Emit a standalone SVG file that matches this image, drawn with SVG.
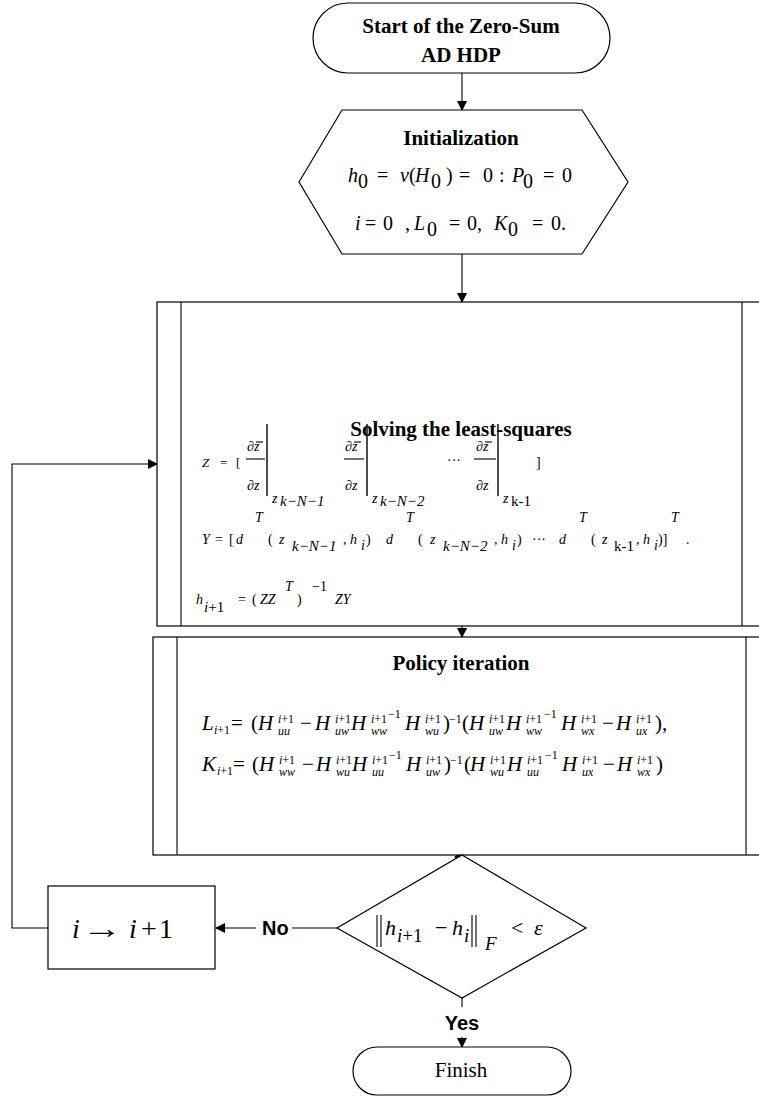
<svg xmlns="http://www.w3.org/2000/svg" width="759" height="1097" viewBox="0 0 759 1097">
<defs>
<marker id="ah" markerWidth="10" markerHeight="10" refX="9" refY="5" orient="auto" markerUnits="userSpaceOnUse">
<path d="M0,0 L10,5 L0,10 z" fill="#000"/>
</marker>
<style>
.box{fill:#fff;stroke:#000;stroke-width:1.2}
.ln{fill:none;stroke:#000;stroke-width:1.1}
.ttl{font-family:"Liberation Serif","Times New Roman",serif;font-weight:bold;font-size:21px;text-anchor:middle;fill:#000}
.m{font-family:"Liberation Serif","Times New Roman",serif;fill:#000}
.i{font-style:italic}
.lbl{font-family:"Liberation Sans",Arial,sans-serif;font-weight:bold;font-size:20px;fill:#000}
</style>
</defs>
<rect width="759" height="1097" fill="#fff"/>

<g id="connectors">
<line class="ln" x1="462" y1="73" x2="462" y2="110" marker-end="url(#ah)"/>
<line class="ln" x1="462" y1="254" x2="462" y2="302" marker-end="url(#ah)"/>
<line class="ln" x1="462" y1="626" x2="462" y2="637" marker-end="url(#ah)"/>
<polygon points="454,857 464,850 463,863" fill="#000"/>
<line class="ln" x1="337" y1="928" x2="292" y2="928"/>
<line class="ln" x1="256" y1="928" x2="216" y2="928" marker-end="url(#ah)"/>
<polyline class="ln" points="48,928 12,928 12,464 157,464" marker-end="url(#ah)"/>
<line class="ln" x1="462" y1="998" x2="462" y2="1007"/>
<line class="ln" x1="462" y1="1037" x2="462" y2="1047" marker-end="url(#ah)"/>
<text class="lbl" x="262" y="935">No</text>
<text class="lbl" x="462" y="1030" text-anchor="middle">Yes</text>
</g>

<g id="start">
<rect class="box" x="313" y="3" width="297" height="70" rx="35" ry="35"/>
<text class="ttl" x="461" y="33">Start of the Zero-Sum</text>
<text class="ttl" x="461" y="62">AD HDP</text>
</g>

<g id="init">
<polygon class="box" points="299,182 342,110 582,110 628,182 582,254 342,254"/>
<text class="ttl" x="461" y="145">Initialization</text>
<text class="m" font-size="20">
<tspan x="348" y="182" class="i">h</tspan><tspan x="358" y="188">0</tspan>
<tspan x="377" y="182">=</tspan><tspan x="400" y="182" class="i">v</tspan><tspan x="409" y="182">(</tspan>
<tspan x="415" y="182" class="i">H</tspan><tspan x="431" y="188">0</tspan><tspan x="446" y="182">)</tspan>
<tspan x="459" y="182">=</tspan><tspan x="483" y="182">0</tspan><tspan x="499" y="182">:</tspan>
<tspan x="512" y="182" class="i">P</tspan><tspan x="523" y="188">0</tspan>
<tspan x="543" y="182">=</tspan><tspan x="562" y="182">0</tspan>
</text>
<text class="m" font-size="20">
<tspan x="355" y="230" class="i">i</tspan><tspan x="365" y="230">=</tspan><tspan x="383" y="230">0</tspan>
<tspan x="405" y="230">,</tspan><tspan x="414" y="230" class="i">L</tspan><tspan x="427" y="236">0</tspan>
<tspan x="449" y="230">=</tspan><tspan x="467" y="230">0,</tspan>
<tspan x="494" y="230" class="i">K</tspan><tspan x="508" y="236">0</tspan>
<tspan x="532" y="230">=</tspan><tspan x="551" y="230">0.</tspan>
</text>
</g>

<g id="least-squares">
<rect class="box" x="157" y="302" width="620" height="324"/>
<line class="ln" x1="181" y1="302" x2="181" y2="626"/>
<line class="ln" x1="742" y1="302" x2="742" y2="626"/>
<text class="ttl" x="461" y="436">Solving the least-squares</text>
<!-- Z row -->
<text class="m" font-size="13">
<tspan x="202" y="467" class="i">Z</tspan><tspan x="220" y="467">=</tspan><tspan x="236" y="467">[</tspan>
</text>
<g class="m" font-size="14">
<text x="247" y="451" class="m i">∂z</text>
<text x="247" y="490" class="m i">∂z</text>
<text x="345" y="451" class="m i">∂z</text>
<text x="345" y="490" class="m i">∂z</text>
<text x="476" y="451" class="m i">∂z</text>
<text x="476" y="490" class="m i">∂z</text>
</g>
<g class="ln">
<line x1="256" y1="442" x2="263" y2="442"/>
<line x1="354" y1="442" x2="361" y2="442"/>
<line x1="485" y1="442" x2="492" y2="442"/>
<line x1="246" y1="459" x2="265" y2="459"/>
<line x1="344" y1="459" x2="364" y2="459"/>
<line x1="474" y1="459" x2="496" y2="459"/>
<line x1="267" y1="424" x2="267" y2="496" stroke-width="1.4"/>
<line x1="367" y1="424" x2="367" y2="496" stroke-width="1.4"/>
<line x1="498" y1="424" x2="498" y2="496" stroke-width="1.4"/>
</g>
<text class="m" font-size="14">
<tspan x="272" y="503" class="i">z</tspan><tspan x="280" y="506" class="i" font-size="15">k−N−1</tspan>
<tspan x="372" y="503" class="i">z</tspan><tspan x="380" y="506" class="i" font-size="15">k−N−2</tspan>
<tspan x="447" y="465">···</tspan>
<tspan x="503" y="503" class="i">z</tspan><tspan x="511" y="506" font-size="15">k-1</tspan>
<tspan x="536" y="467">]</tspan>
</text>
<!-- Y row -->
<text class="m" font-size="14">
<tspan x="202" y="544" class="i">Y</tspan><tspan x="215" y="544">=</tspan><tspan x="229" y="544">[</tspan>
<tspan x="236" y="544" class="i">d</tspan><tspan x="255" y="522" class="i">T</tspan><tspan x="268" y="544">(</tspan>
<tspan x="279" y="544" class="i">z</tspan><tspan x="292" y="551" class="i" font-size="15">k−N−1</tspan>
<tspan x="343" y="544">,</tspan><tspan x="350" y="544" class="i">h</tspan><tspan x="361" y="550" class="i">i</tspan><tspan x="366" y="544">)</tspan>
<tspan x="386" y="544" class="i">d</tspan><tspan x="406" y="522" class="i">T</tspan><tspan x="418" y="544">(</tspan>
<tspan x="430" y="544" class="i">z</tspan><tspan x="443" y="551" class="i" font-size="15">k−N−2</tspan>
<tspan x="494" y="544">,</tspan><tspan x="501" y="544" class="i">h</tspan><tspan x="512" y="550" class="i">i</tspan><tspan x="517" y="544">)</tspan>
<tspan x="532" y="544">···</tspan>
<tspan x="559" y="544" class="i">d</tspan><tspan x="579" y="522" class="i">T</tspan><tspan x="591" y="544">(</tspan>
<tspan x="602" y="544" class="i">z</tspan><tspan x="614" y="551" font-size="15">k-1</tspan>
<tspan x="636" y="544">,</tspan><tspan x="643" y="544" class="i">h</tspan><tspan x="654" y="550" class="i">i</tspan><tspan x="658" y="544">)]</tspan>
<tspan x="671" y="522" class="i">T</tspan><tspan x="686" y="544">.</tspan>
</text>
<!-- h row -->
<text class="m" font-size="14">
<tspan x="196" y="604" class="i">h</tspan><tspan x="204" y="612" font-size="15"><tspan class="i">i</tspan>+1</tspan>
<tspan x="238" y="604">=</tspan><tspan x="252" y="604">(</tspan>
<tspan x="260" y="604" class="i">ZZ</tspan><tspan x="285" y="591" class="i">T</tspan>
<tspan x="297" y="604">)</tspan><tspan x="312" y="591">−1</tspan>
<tspan x="335" y="604" class="i">ZY</tspan>
</text>
</g>

<g id="policy">
<rect class="box" x="153" y="637" width="620" height="218"/>
<line class="ln" x1="177" y1="637" x2="177" y2="855"/>
<line class="ln" x1="746" y1="637" x2="746" y2="855"/>
<text class="ttl" x="461" y="670">Policy iteration</text>
<text class="m" font-size="21">
<tspan x="202" y="730" class="i">L</tspan>
<tspan x="214" y="734" font-size="12"><tspan class="i">i</tspan>+1</tspan>
<tspan x="231" y="730">=</tspan><tspan x="251" y="730">(</tspan>
<tspan x="258" y="730" class="i">H</tspan>
<tspan x="278" y="723" font-size="12"><tspan class="i">i</tspan>+1</tspan><tspan x="278" y="735" font-size="12" class="i">uu</tspan>
<tspan x="300" y="730">−</tspan>
<tspan x="315" y="730" class="i">H</tspan>
<tspan x="335" y="723" font-size="12"><tspan class="i">i</tspan>+1</tspan><tspan x="335" y="735" font-size="12" class="i">uw</tspan>
<tspan x="351" y="730" class="i">H</tspan>
<tspan x="371" y="723" font-size="12"><tspan class="i">i</tspan>+1</tspan><tspan x="371" y="735" font-size="12" class="i">ww</tspan><tspan x="388" y="718" font-size="12">−1</tspan>
<tspan x="405" y="730" class="i">H</tspan>
<tspan x="425" y="723" font-size="12"><tspan class="i">i</tspan>+1</tspan><tspan x="425" y="735" font-size="12" class="i">wu</tspan>
<tspan x="443" y="730">)</tspan><tspan x="449" y="723" font-size="12">−1</tspan>
<tspan x="462" y="730">(</tspan>
<tspan x="469" y="730" class="i">H</tspan>
<tspan x="489" y="723" font-size="12"><tspan class="i">i</tspan>+1</tspan><tspan x="489" y="735" font-size="12" class="i">uw</tspan>
<tspan x="506" y="730" class="i">H</tspan>
<tspan x="526" y="723" font-size="12"><tspan class="i">i</tspan>+1</tspan><tspan x="526" y="735" font-size="12" class="i">ww</tspan><tspan x="544" y="718" font-size="12">−1</tspan>
<tspan x="561" y="730" class="i">H</tspan>
<tspan x="581" y="723" font-size="12"><tspan class="i">i</tspan>+1</tspan><tspan x="581" y="735" font-size="12" class="i">wx</tspan>
<tspan x="602" y="730">−</tspan>
<tspan x="616" y="730" class="i">H</tspan>
<tspan x="636" y="723" font-size="12"><tspan class="i">i</tspan>+1</tspan><tspan x="636" y="735" font-size="12" class="i">ux</tspan>
<tspan x="655" y="730">),</tspan>
</text>
<text class="m" font-size="21">
<tspan x="202" y="771" class="i">K</tspan>
<tspan x="217" y="775" font-size="12"><tspan class="i">i</tspan>+1</tspan>
<tspan x="233" y="771">=</tspan><tspan x="252" y="771">(</tspan>
<tspan x="259" y="771" class="i">H</tspan>
<tspan x="279" y="764" font-size="12"><tspan class="i">i</tspan>+1</tspan><tspan x="279" y="776" font-size="12" class="i">ww</tspan>
<tspan x="302" y="771">−</tspan>
<tspan x="316" y="771" class="i">H</tspan>
<tspan x="336" y="764" font-size="12"><tspan class="i">i</tspan>+1</tspan><tspan x="336" y="776" font-size="12" class="i">wu</tspan>
<tspan x="352" y="771" class="i">H</tspan>
<tspan x="372" y="764" font-size="12"><tspan class="i">i</tspan>+1</tspan><tspan x="372" y="776" font-size="12" class="i">uu</tspan><tspan x="389" y="759" font-size="12">−1</tspan>
<tspan x="406" y="771" class="i">H</tspan>
<tspan x="426" y="764" font-size="12"><tspan class="i">i</tspan>+1</tspan><tspan x="426" y="776" font-size="12" class="i">uw</tspan>
<tspan x="444" y="771">)</tspan><tspan x="450" y="764" font-size="12">−1</tspan>
<tspan x="464" y="771">(</tspan>
<tspan x="470" y="771" class="i">H</tspan>
<tspan x="490" y="764" font-size="12"><tspan class="i">i</tspan>+1</tspan><tspan x="490" y="776" font-size="12" class="i">wu</tspan>
<tspan x="507" y="771" class="i">H</tspan>
<tspan x="527" y="764" font-size="12"><tspan class="i">i</tspan>+1</tspan><tspan x="527" y="776" font-size="12" class="i">uu</tspan><tspan x="545" y="759" font-size="12">−1</tspan>
<tspan x="562" y="771" class="i">H</tspan>
<tspan x="582" y="764" font-size="12"><tspan class="i">i</tspan>+1</tspan><tspan x="582" y="776" font-size="12" class="i">ux</tspan>
<tspan x="603" y="771">−</tspan>
<tspan x="617" y="771" class="i">H</tspan>
<tspan x="637" y="764" font-size="12"><tspan class="i">i</tspan>+1</tspan><tspan x="637" y="776" font-size="12" class="i">wx</tspan>
<tspan x="656" y="771">)</tspan>
</text>
</g>

<g id="decision">
<polygon class="box" points="462,855 586,928 462,998 337,928"/>
<g class="ln" stroke-width="1.2">
<line x1="377" y1="915" x2="377" y2="947"/><line x1="381" y1="915" x2="381" y2="947"/>
<line x1="472" y1="915" x2="472" y2="947"/><line x1="476" y1="915" x2="476" y2="947"/>
</g>
<text class="m" font-size="22">
<tspan x="385" y="935" class="i">h</tspan><tspan x="397" y="942" font-size="19"><tspan class="i">i</tspan>+1</tspan>
<tspan x="435" y="935">−</tspan>
<tspan x="452" y="935" class="i">h</tspan><tspan x="464" y="942" font-size="19" class="i">i</tspan>
<tspan x="485" y="950" font-size="19" class="i">F</tspan>
<tspan x="511" y="935">&lt;</tspan>
<tspan x="534" y="935" class="i">ε</tspan>
</text>
</g>

<g id="increment">
<rect class="box" x="48" y="886" width="167" height="83"/>
<text class="m" font-size="28">
<tspan x="72" y="938" class="i">i</tspan><tspan x="129" y="938" class="i">i</tspan><tspan x="141" y="938">+</tspan><tspan x="159" y="938">1</tspan>
</text>
<text class="m" font-size="28" transform="translate(82,938) scale(1.45,1)">→</text>
</g>

<g id="finish">
<rect class="box" x="353" y="1047" width="218" height="48" rx="24" ry="24"/>
<text class="m" font-size="21" x="461" y="1077" text-anchor="middle">Finish</text>
</g>
</svg>
